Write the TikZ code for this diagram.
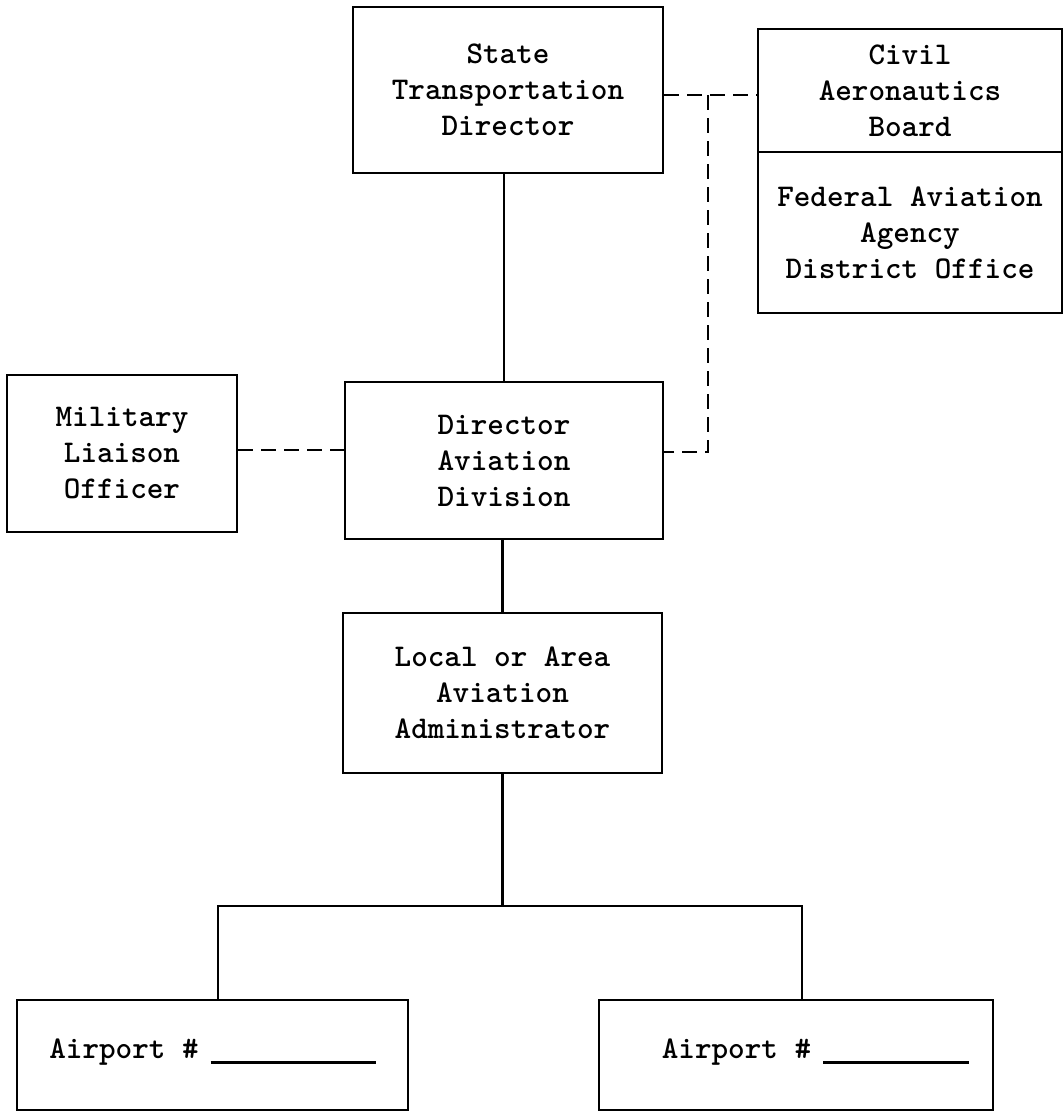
\documentclass[tikz,border=0pt]{standalone}
\newcommand\ttbox{\ttfamily\bfseries\fontsize{31.6}{36}\selectfont}
\begin{document}
\begin{tikzpicture}[x=1pt,y=-1pt,
  box/.style={draw,line width=2.9pt,inner sep=0pt,align=center,font=\ttbox},
  conn/.style={line width=2.9pt},
  dconn/.style={line width=2.5pt,dash pattern=on 15pt off 8pt}]
\useasboundingbox[fill=white] (0,0) rectangle (1063,1112);
% boxes
\node[box,minimum width=310pt,minimum height=166pt] (std) at (508,90) {State\\Transportation\\Director};
\node[box,minimum width=304pt,minimum height=123pt] (cab) at (910,90.5) {Civil\\Aeronautics\\Board};
\node[box,minimum width=304pt,minimum height=161pt] (faa) at (910,232.5) {Federal Aviation\\Agency\\District Office};
\node[box,minimum width=230pt,minimum height=157pt] (mil) at (122,453.5) {Military\\Liaison\\Officer};
\node[box,minimum width=318pt,minimum height=157pt] (dir) at (504,460.5) {Director\\Aviation\\Division};
\node[box,minimum width=319pt,minimum height=160pt] (loc) at (502.5,693) {Local or Area\\Aviation\\Administrator};
\node[box,minimum width=391pt,minimum height=110pt] (apl) at (212.5,1055)
  {\raisebox{12pt}{Airport \#\hspace{12pt}\rule[-5pt]{165pt}{2.8pt}}};
\node[box,minimum width=394pt,minimum height=110pt] (apr) at (796,1055)
  {\hspace*{39pt}\raisebox{12pt}{Airport \#\hspace{12pt}\rule[-5pt]{146pt}{2.8pt}}};
% solid connectors
\draw[conn] (dir.north) -- (dir.north |- std.south);
\draw[conn] (loc.north) -- (loc.north |- dir.south);
\coordinate (jl) at (218,906);
\coordinate (jr) at (802,906);
\draw[conn] (loc.south) -- (loc.south |- jl);
\draw[conn] (jl |- apl.north) -- (jl) -- (jr) -- (jr |- apr.north);
% dashed connectors
\coordinate (dj) at (708,95);
\coordinate (dk) at (708,452);
\coordinate (ml) at (0,450);
\draw[dconn] (std.east |- dj) -- (dj -| cab.west);
\draw[dconn] (dj) -- (dk) -- (dk -| dir.east);
\draw[dconn] (mil.east |- ml) -- (dir.west |- ml);
\end{tikzpicture}
\end{document}
